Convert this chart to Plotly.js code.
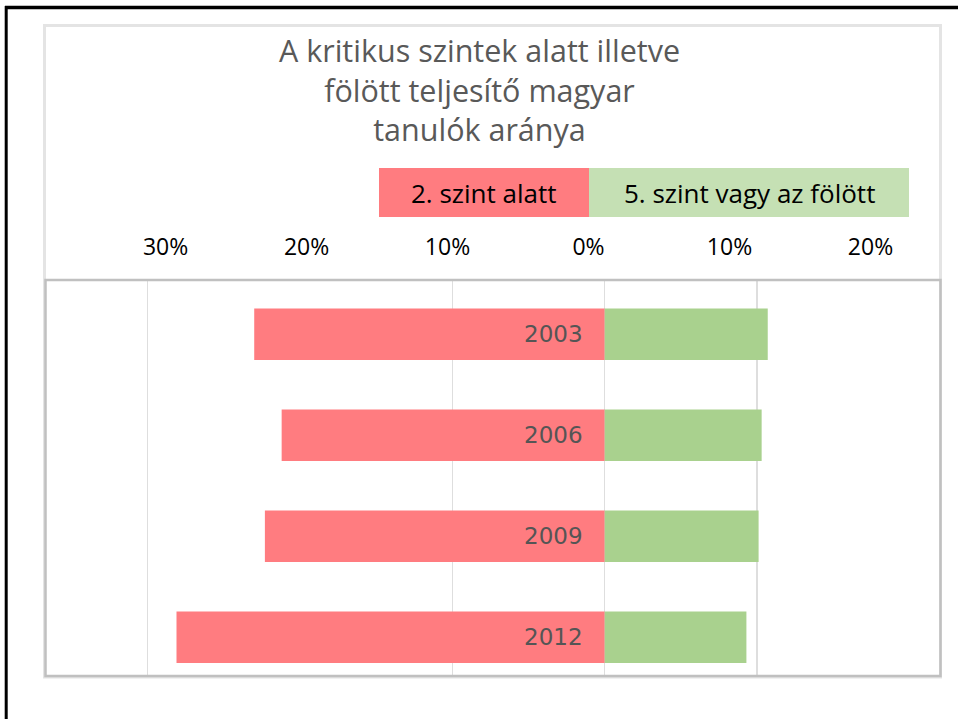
<!DOCTYPE html>
<html>
<head>
<meta charset="utf-8">
<script src="https://cdn.plot.ly/plotly-3.0.1.min.js"></script>
<style>
  html, body { margin: 0; padding: 0; background: #ffffff; }
  #chart { width: 958px; height: 719px; }
</style>
</head>
<body>
<div id="chart"></div>
<script>
// ---- data ----
const years = ['2003', '2006', '2009', '2012'];
const belowLevel2 = [23.0, 21.2, 22.3, 28.1];   // % of students below level 2
const level5OrAbove = [10.7, 10.3, 10.1, 9.3];  // % of students at level 5 or above
const seriesNames = ['2. szint alatt', '5. szint vagy az fölött'];
const topTickValues = [-30, -20, -10, 0, 10, 20];
const topTickLabels = ['30%', '20%', '10%', '0%', '10%', '20%'];
const titleLines = ['A kritikus szintek alatt illetve', 'fölött teljesítő magyar', 'tanulók aránya'];

// ---- geometry helpers (plot area 45..941 x 280..677 in px) ----
const W = 958, H = 719, L = 45, R = 941, T = 280, B = 677;
const pw = R - L, ph = B - T;
const px = v => (v - L) / pw;
const py = v => (B - v) / ph;

const red = '#ff7c80', green = '#a9d18e', greenLight = '#c5e0b4';

const traces = [
  {
    type: 'bar', orientation: 'h', name: seriesNames[0],
    y: years, x: belowLevel2.map(v => -v / 100),
    marker: { color: red }, width: 0.51, hoverinfo: 'skip', showlegend: false
  },
  {
    type: 'bar', orientation: 'h', name: seriesNames[1],
    y: years, x: level5OrAbove.map(v => v / 100),
    marker: { color: green }, width: 0.51, hoverinfo: 'skip', showlegend: false
  },
  { type: 'scatter', x: [], y: [], xaxis: 'x2', yaxis: 'y', showlegend: false, hoverinfo: 'skip' }
];

// year labels inside the red bars (category axis -> category index)
const annotations = years.map((y, i) => ({
  x: 0, y: i, xref: 'x', yref: 'y', text: y, showarrow: false,
  xanchor: 'right', yanchor: 'middle', xshift: -20,
  font: { family: 'DejaVu Sans', size: 23, color: '#555555' }
}));
// legend labels
annotations.push({
  x: px(484), y: py(193), xref: 'paper', yref: 'paper', text: seriesNames[0],
  showarrow: false, xanchor: 'center', yanchor: 'middle',
  font: { family: 'Open Sans', size: 26, color: '#000000' }
});
annotations.push({
  x: px(749), y: py(193), xref: 'paper', yref: 'paper', text: seriesNames[1],
  showarrow: false, xanchor: 'center', yanchor: 'middle',
  font: { family: 'Open Sans', size: 26, color: '#000000' }
});

const shapes = [
  // outer chart-area frame (light)
  { type: 'rect', xref: 'paper', yref: 'paper', x0: px(44.5), x1: px(940.5), y0: py(677), y1: py(25.5),
    line: { color: '#e4e4e4', width: 3 }, layer: 'below' },
  // legend boxes
  { type: 'rect', xref: 'paper', yref: 'paper', x0: px(379), x1: px(589), y0: py(217), y1: py(168),
    fillcolor: red, line: { width: 0 } },
  { type: 'rect', xref: 'paper', yref: 'paper', x0: px(589), x1: px(909), y0: py(217), y1: py(168),
    fillcolor: greenLight, line: { width: 0 } },
  // plot frame
  { type: 'rect', xref: 'paper', yref: 'paper', x0: px(45.5), x1: px(940.5), y0: py(676), y1: py(280),
    line: { color: '#c0c0c0', width: 2.5 } },
  // black page frame (top + left)
  { type: 'line', xref: 'paper', yref: 'paper', x0: px(5), x1: px(960), y0: py(7.5), y1: py(7.5),
    line: { color: '#000000', width: 3.5 } },
  { type: 'line', xref: 'paper', yref: 'paper', x0: px(6.2), x1: px(6.2), y0: py(6), y1: py(721),
    line: { color: '#000000', width: 3 } }
];

const layout = {
  width: W, height: H,
  margin: { l: L, r: W - R, t: T, b: H - B, pad: 0 },
  paper_bgcolor: '#ffffff', plot_bgcolor: '#ffffff',
  barmode: 'relative',
  title: {
    text: titleLines.join('<br>'),
    x: 479.5 / W, xanchor: 'center', xref: 'container',
    y: 1 - 62 / H, yanchor: 'top', yref: 'container',
    font: { family: 'Open Sans', size: 30.5, color: '#595959' }
  },
  xaxis: {
    range: [-0.3673, 0.2207], showticklabels: false, ticks: '',
    showgrid: true, gridcolor: '#dedede', gridwidth: 1.5,
    tick0: -0.3, dtick: 0.2,
    zeroline: true, zerolinecolor: '#dedede', zerolinewidth: 1.5,
    showline: false, fixedrange: true
  },
  xaxis2: {
    overlaying: 'x', side: 'top', anchor: 'y',
    range: [-38.55, 25.0], tickmode: 'array',
    tickvals: topTickValues, ticktext: topTickLabels,
    ticks: 'outside', ticklen: 15, tickcolor: 'rgba(0,0,0,0)',
    showgrid: false, zeroline: false, showline: false,
    tickfont: { family: 'Open Sans', size: 23, color: '#000000' }, fixedrange: true
  },
  yaxis: {
    type: 'category', categoryorder: 'array', categoryarray: years,
    range: [3.394, -0.538], showticklabels: false, ticks: '',
    showgrid: false, zeroline: false, showline: false, fixedrange: true
  },
  shapes: shapes,
  annotations: annotations,
  showlegend: false
};

Plotly.newPlot('chart', traces, layout, { displayModeBar: false, staticPlot: true });
</script>
</body>
</html>
